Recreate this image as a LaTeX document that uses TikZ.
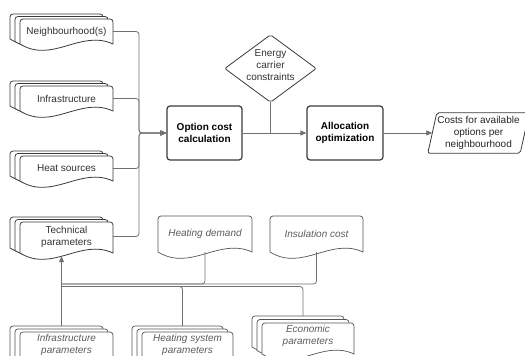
\documentclass[tikz,border=0pt]{standalone}
\usepackage{fontspec}
\setmainfont{Liberation Sans}
\usetikzlibrary{arrows.meta,calc}
\definecolor{lnC}{HTML}{707070}
\definecolor{shC}{HTML}{3A3A3A}
\definecolor{shI}{HTML}{555555}
\definecolor{txC}{HTML}{333333}
\definecolor{itC}{HTML}{5C5C5C}
% document outline: #1 left, #2 right, #3 top, #4 wave base
\newcommand{\docpath}[4]{({#1},{#4}) -- ({#1},{(#3)+3}) arc[start angle=180,end angle=270,radius=3] -- ({(#2)-3},{#3}) arc[start angle=270,end angle=360,radius=3] -- ({#2},{#4}) .. controls ({(#2)-0.35*((#2)-(#1))},{(#4)-15}) and ({(#1)+0.35*((#2)-(#1))},{(#4)+20}) .. ({#1},{#4}) -- cycle}
% stacked documents: #1 name, #2 x1, #3 x2, #4 top, #5 height, #6 dy, #7 text centre below top, #8 kind (T or I), #9 text
\newcommand{\stackdoc}[9]{%
  \foreach \d in {2,1}{\draw[doc#8line] \docpath{(#2)-5*\d}{(#3)-5*\d}{(#4)-(#6)*\d}{(#4)+(#5)-(#6)*\d};}
  \draw[doc#8line] \docpath{#2}{#3}{#4}{(#4)+(#5)};
  \node[doc#8, minimum width={(#3)-(#2)}, minimum height={2*(#7)}] (#1) at ({((#2)+(#3))/2},{(#4)+(#7)}) {#9};
}
\begin{document}
\begin{tikzpicture}[x=1pt,y=-1pt,
  docTline/.style={draw=shC, line width=0.8pt, fill=white},
  docIline/.style={draw=shI, line width=0.7pt, fill=white},
  docT/.style={align=center, text=txC, font=\fontsize{10}{12}\selectfont, inner sep=0pt},
  docI/.style={docT, text=itC, font=\fontsize{10}{12}\selectfont\itshape},
  proc/.style={draw=shC, line width=1.2pt, rounded corners=3pt, align=center, inner sep=0pt,
    font=\fontsize{10}{12}\selectfont\bfseries, text=black, minimum height=54pt},
  conn/.style={draw=lnC, line width=0.8pt, rounded corners=3pt},
  arr/.style={conn, -{Triangle[length=6pt,width=5pt]}}]
\useasboundingbox (0,0) rectangle (525,356);
\clip (0,0) rectangle (525,356);

% left stacked documents
\stackdoc{nb}{20}{113}{19}{25}{2.5}{12.5}{T}{Neighbourhood(s)}
\stackdoc{inf}{20}{113}{86}{25}{2.5}{12.5}{T}{Infrastructure}
\stackdoc{hsrc}{20}{113}{156}{25}{2.5}{12.5}{T}{Heat sources}
\stackdoc{tp}{20}{113}{222}{31}{2.5}{14.5}{T}{Technical\\parameters}

% bottom stacked documents
\stackdoc{ip}{20}{113}{332}{31}{3}{12.5}{I}{Infrastructure\\parameters}
\stackdoc{hsp}{142}{233}{332}{31}{3}{12.5}{I}{Heating system\\parameters}
\stackdoc{ep}{262}{354}{323}{31}{3.5}{13}{I}{Economic\\parameters}

% single documents
\draw[docIline] \docpath{158}{252}{216}{252};
\node[docI, minimum width=94pt, minimum height=36pt] (hd) at (205,234) {Heating demand};
\draw[docIline] \docpath{270}{363}{216}{252};
\node[docI, minimum width=93pt, minimum height=36pt] (ic) at (316.5,234) {Insulation cost};

% process boxes
\node[proc, minimum width=75pt] (oc) at (204.5,133) {Option cost\\calculation};
\node[proc, minimum width=76pt] (al) at (345,133) {Allocation\\optimization};

% decision diamond
\node[minimum width=91pt, minimum height=67pt, inner sep=0pt] (ec) at (270.5,68.5) {};
\draw[draw=shC, line width=0.8pt, rounded corners=2pt, fill=white] (ec.north) -- (ec.east) -- (ec.south) -- (ec.west) -- cycle;
\node[docT] (ect) at ($(ec.center)+(0,-3.5)$) {Energy\\carrier\\constraints};

% output parallelogram
\node[minimum width=92pt, minimum height=40pt, inner sep=0pt] (out) at (478.5,133) {};
\draw[draw=shC, line width=0.8pt, rounded corners=2pt, fill=white]
  ($(out.north west)+(4.5,0)$) -- ($(out.north east)+(4.5,0)$) -- ($(out.south east)+(-4.5,0)$) -- ($(out.south west)+(-4.5,0)$) -- cycle;
\node[docT, text=black!85] (outt) at (out.center) {Costs for available\\options per\\neighbourhood};

% left connectors into option cost calculation
\coordinate (jin) at (139,133);
\draw[arr] (nb.east) -| (jin) -- (oc.west);
\draw[arr] (inf.east) -| (jin) -- (oc.west);
\draw[arr] (hsrc.east) -| (jin) -- (oc.west);
\draw[arr] (tp.east) -| (jin) -- (oc.west);

% main flow
\draw[arr] (oc.east) -- (al.west);
\draw[conn] (ec.south) -- (ec.south |- oc.east);
\draw[arr] (al.east) -- (out.west);

% bottom connectors into technical parameters
\coordinate (j1) at (61.5,284);
\coordinate (j2) at (61.5,286.5);
\draw[conn] (hd.south) |- (j1);
\draw[conn] (ic.south) |- (j1);
\draw[conn] ($(hsp.north)+(-5,-6)$) |- (j2);
\draw[conn] ($(ep.north)+(-5,-7)$) |- (j2);
\draw[arr] ($(ip.north)+(-5,-6)$) -- ($(tp.south)+(-5,5)$);
\end{tikzpicture}
\end{document}
